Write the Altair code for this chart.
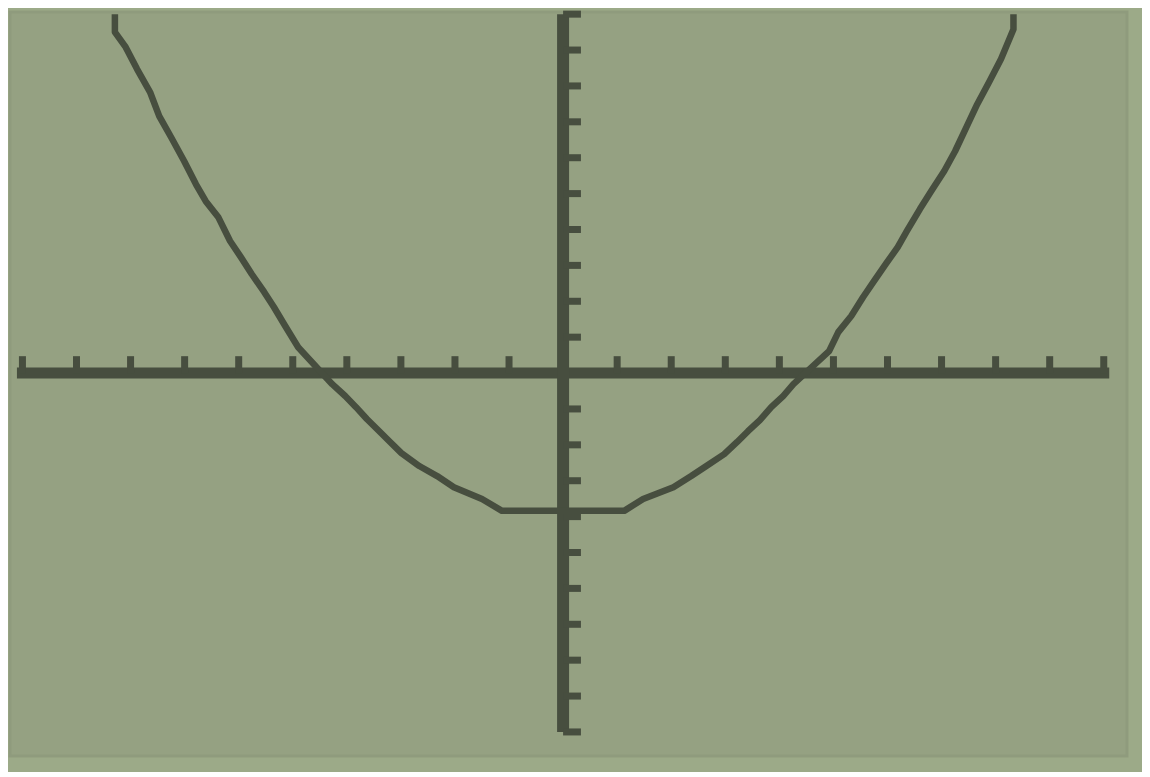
import altair as alt
import pandas as pd

# Curve points (window -10..10 on both axes)
curve_x = [-8.29, -8.29, -8.09, -7.88, -7.64, -7.47, -7.25, -7.01, -6.79, -6.61,
           -6.38, -6.16, -5.96, -5.76, -5.53, -5.35, -5.14, -4.90, -4.27, -4.03,
           -3.83, -3.63, -3.40, -3.20, -2.99, -2.66, -2.33, -2.02, -1.50, -1.13,
           0.00, 1.13, 1.48, 2.04, 2.37, 2.65, 2.98, 3.22, 3.42, 3.64,
           3.85, 4.07, 4.26, 4.92, 5.09, 5.33, 5.55, 5.75, 5.97, 6.19,
           6.36, 6.60, 6.81, 7.05, 7.25, 7.46, 7.66, 7.88, 8.10, 8.33, 8.33]
curve_y = [10.0, 9.50, 9.08, 8.47, 7.83, 7.16, 6.57, 5.91, 5.26, 4.79,
           4.35, 3.68, 3.23, 2.76, 2.26, 1.84, 1.31, 0.72, -0.31, -0.64,
           -0.95, -1.28, -1.62, -1.92, -2.23, -2.59, -2.87, -3.18, -3.51, -3.84,
           -3.84, -3.84, -3.51, -3.18, -2.87, -2.59, -2.26, -1.92, -1.62, -1.31,
           -0.95, -0.64, -0.31, 0.61, 1.14, 1.59, 2.12, 2.56, 3.04, 3.51,
           3.96, 4.57, 5.07, 5.63, 6.18, 6.85, 7.49, 8.11, 8.75, 9.58, 10.0]

# Window / axis settings
axis_min = -10
axis_max = 10
x_ticks = [v for v in range(-10, 11) if v != 0]
y_ticks = [v for v in range(-10, 11) if v != 0]
tick_len_x = 0.47   # x-axis tick marks rise above the axis (data units)
tick_len_y = 0.33   # y-axis tick marks stick out to the right (data units)

x_domain = [-10.23, 10.43]
y_domain = [-10.67, 10.06]

LCD = "#95a182"
OUTER = "#9caa88"
DARK = "#474e3f"

curve_df = pd.DataFrame({"x": curve_x, "y": curve_y, "i": range(len(curve_x))})
xaxis_df = pd.DataFrame({"x": [axis_min], "x2": [axis_max], "y": [0]})
yaxis_df = pd.DataFrame({"y": [axis_min], "y2": [axis_max], "x": [0]})
xt_df = pd.DataFrame({"x": x_ticks, "y": [0] * len(x_ticks), "y2": [tick_len_x] * len(x_ticks)})
yt_df = pd.DataFrame({"y": y_ticks, "x": [0] * len(y_ticks), "x2": [tick_len_y] * len(y_ticks)})

xs = alt.Scale(domain=x_domain, nice=False, zero=False)
ys = alt.Scale(domain=y_domain, nice=False, zero=False)

x_axis = alt.Chart(xaxis_df).mark_rule(color=DARK, strokeWidth=11, strokeCap="square").encode(
    x=alt.X("x:Q", scale=xs, axis=None), x2="x2:Q", y=alt.Y("y:Q", scale=ys, axis=None))
y_axis = alt.Chart(yaxis_df).mark_rule(color=DARK, strokeWidth=12).encode(
    y=alt.Y("y:Q", scale=ys, axis=None), y2="y2:Q", x=alt.X("x:Q", scale=xs, axis=None))
x_tk = alt.Chart(xt_df).mark_rule(color=DARK, strokeWidth=7).encode(
    x=alt.X("x:Q", scale=xs, axis=None), y=alt.Y("y:Q", scale=ys, axis=None), y2="y2:Q")
y_tk = alt.Chart(yt_df).mark_rule(color=DARK, strokeWidth=7).encode(
    y=alt.Y("y:Q", scale=ys, axis=None), x=alt.X("x:Q", scale=xs, axis=None), x2="x2:Q")
curve = alt.Chart(curve_df).mark_line(color=DARK, strokeWidth=6.5, strokeJoin="round").encode(
    x=alt.X("x:Q", scale=xs, axis=None), y=alt.Y("y:Q", scale=ys, axis=None), order="i:Q")

chart = alt.layer(x_axis, y_axis, x_tk, y_tk, curve).properties(
    width=1117, height=744,
    background=OUTER,
    padding={"left": 2, "top": 0, "right": 15, "bottom": 16},
).configure_view(fill=LCD, stroke="#8f9b7d", strokeWidth=3)

chart.save("out.html", embed_options={"renderer": "svg", "actions": False})
